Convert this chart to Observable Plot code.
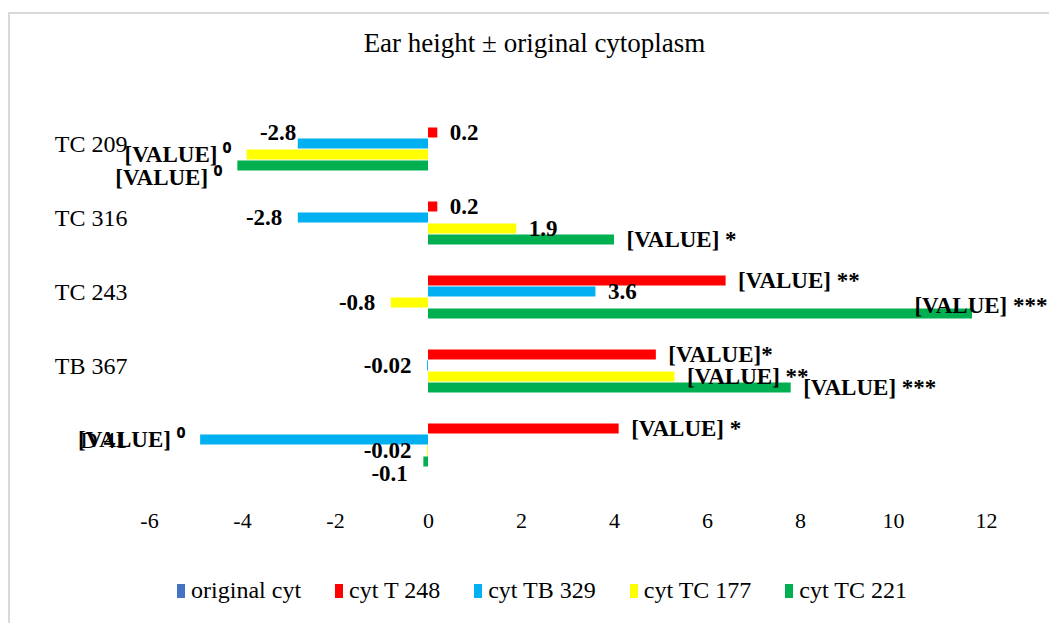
<!DOCTYPE html>
<html>
<head>
<meta charset="utf-8">
<script src="https://cdn.jsdelivr.net/npm/d3@7"></script>
<script src="https://cdn.jsdelivr.net/npm/@observablehq/plot@0.6"></script>
<style>
  html, body { margin: 0; padding: 0; background: #fff; }
  body { width: 1049px; height: 623px; position: relative; overflow: hidden; font-family: "Liberation Serif", "Times New Roman", serif; }
  #frame { position: absolute; left: 8px; top: 12px; width: 1200px; height: 700px; border: 2px solid #d9d9d9; box-sizing: border-box; }
  #title { position: absolute; left: 20px; top: 28px; width: 1029px; text-align: center; font-size: 27px; color: #000; }
  #chart { position: absolute; left: 0; top: 80px; }
  #legend { position: absolute; left: 0; top: 577px; width: 1049px; display: flex; justify-content: center; padding-left: 35px; box-sizing: border-box; font-size: 24px; color: #000; }
  .item { display: flex; align-items: center; margin-right: 34px; }
  .item:last-child { margin-right: 0; }
  .sw { width: 8px; height: 14px; margin-right: 6px; }
</style>
</head>
<body>
<div id="frame"></div>
<div id="title">Ear height ± original cytoplasm</div>
<div id="chart"></div>
<div id="legend"></div>
<script>
const categories = ["TC 209", "TC 316", "TC 243", "TB 367", "D 41"];
const seriesNames = ["original cyt", "cyt T 248", "cyt TB 329", "cyt TC 177", "cyt TC 221"];
const seriesColors = ["#4472C4", "#FF0000", "#00B0F0", "#FFFF00", "#00B050"];
const xTicks = [-6, -4, -2, 0, 2, 4, 6, 8, 10, 12];

const valOriginal = [0, 0, 0, 0, 0];
const valT248 = [0.2, 0.2, 6.4, 4.9, 4.1];
const valTB329 = [-2.8, -2.8, 3.6, -0.02, -4.9];
const valTC177 = [-3.9, 1.9, -0.8, 5.3, -0.02];
const valTC221 = [-4.1, 4.0, 11.7, 7.8, -0.1];

const lblOriginal = ["", "", "", "", ""];
const lblT248 = ["0.2", "0.2", "[VALUE] **", "[VALUE]*", "[VALUE] *"];
const lblTB329 = ["-2.8", "-2.8", "3.6", "-0.02", "[VALUE] \u2070"];
const lblTC177 = ["[VALUE] \u2070", "1.9", "-0.8", "[VALUE] **", "-0.02"];
const lblTC221 = ["[VALUE] \u2070", "[VALUE] *", "[VALUE] ***", "[VALUE] ***", "-0.1"];

const allVals = [valOriginal, valT248, valTB329, valTC177, valTC221];
const allLbls = [lblOriginal, lblT248, lblTB329, lblTC177, lblTC221];

const rows = [];
seriesNames.forEach((s, si) => {
  categories.forEach((c, ci) => {
    const v = allVals[si][ci];
    const next = si + 1 < allVals.length ? allVals[si + 1][ci] : null;
    const prev = si > 0 ? allVals[si - 1][ci] : null;
    // simple collision avoidance for labels of negative bars
    let dy = 0, dx = 0;
    if (v < 0 && next !== null && next < v - 0.5) { dy = -11; dx = 14; }
    else if (v < 0 && prev !== null && prev < 0 && Math.abs(prev - v) < 0.5) { dy = 12; }
    rows.push({cat: c, series: s, value: v, label: allLbls[si][ci], dy, dx});
  });
});

const labeled = rows.filter(d => d.label !== "");
const edgeLimit = 10.5;
const posLabels = labeled.filter(d => d.value >= 0 && d.value <= edgeLimit);
const negLabels = labeled.filter(d => d.value < 0);
const edgeLabels = labeled.filter(d => d.value > edgeLimit);

const labelStyle = {fontWeight: "bold", fontSize: 23, fill: "#000"};

const negMarks = [];
d3.groups(negLabels, d => d.dy + "|" + d.dx).forEach(([k, g]) => {
  negMarks.push(Plot.text(g, {x: "value", y: "series", fy: "cat", text: "label", textAnchor: "end", dx: -16 + g[0].dx, dy: g[0].dy, ...labelStyle}));
});

const chart = Plot.plot({
  width: 1049,
  height: 468,
  marginLeft: 149,
  marginRight: 63,
  marginTop: 25,
  marginBottom: 70,
  style: {fontFamily: "'Liberation Serif', 'Times New Roman', serif", fontSize: "22px", color: "#000", background: "transparent", overflow: "visible"},
  x: {domain: [-6, 12], label: null},
  fy: {domain: categories, paddingInner: 0.2, paddingOuter: 0.1, label: null},
  y: {domain: seriesNames, padding: 0, axis: null},
  color: {domain: seriesNames, range: seriesColors},
  marks: [
    Plot.axisFy({anchor: "left", tickSize: 0, tickPadding: 22, label: null, fontSize: 24}),
    Plot.axisX({anchor: "bottom", ticks: xTicks, tickFormat: d => String(d), tickSize: 0, tickPadding: 43, label: null, fontSize: 22}),
    Plot.barX(rows, {x: "value", y: "series", fy: "cat", fill: "series", stroke: d => d.series === seriesNames[0] ? seriesColors[0] : "none", strokeWidth: 2.5, insetTop: 0.5, insetBottom: 0.5}),
    Plot.text(posLabels, {x: "value", y: "series", fy: "cat", text: "label", textAnchor: "start", dx: 12, ...labelStyle}),
    ...negMarks,
    Plot.text(edgeLabels, {frameAnchor: "right", y: "series", fy: "cat", text: "label", textAnchor: "end", dx: 61, dy: -8, ...labelStyle})
  ]
});
document.getElementById("chart").appendChild(chart);

const legend = document.getElementById("legend");
seriesNames.forEach((s, i) => {
  const it = document.createElement("div");
  it.className = "item";
  const sw = document.createElement("div");
  sw.className = "sw";
  sw.style.background = seriesColors[i];
  const tx = document.createElement("span");
  tx.textContent = s;
  it.appendChild(sw);
  it.appendChild(tx);
  legend.appendChild(it);
});
</script>
</body>
</html>
